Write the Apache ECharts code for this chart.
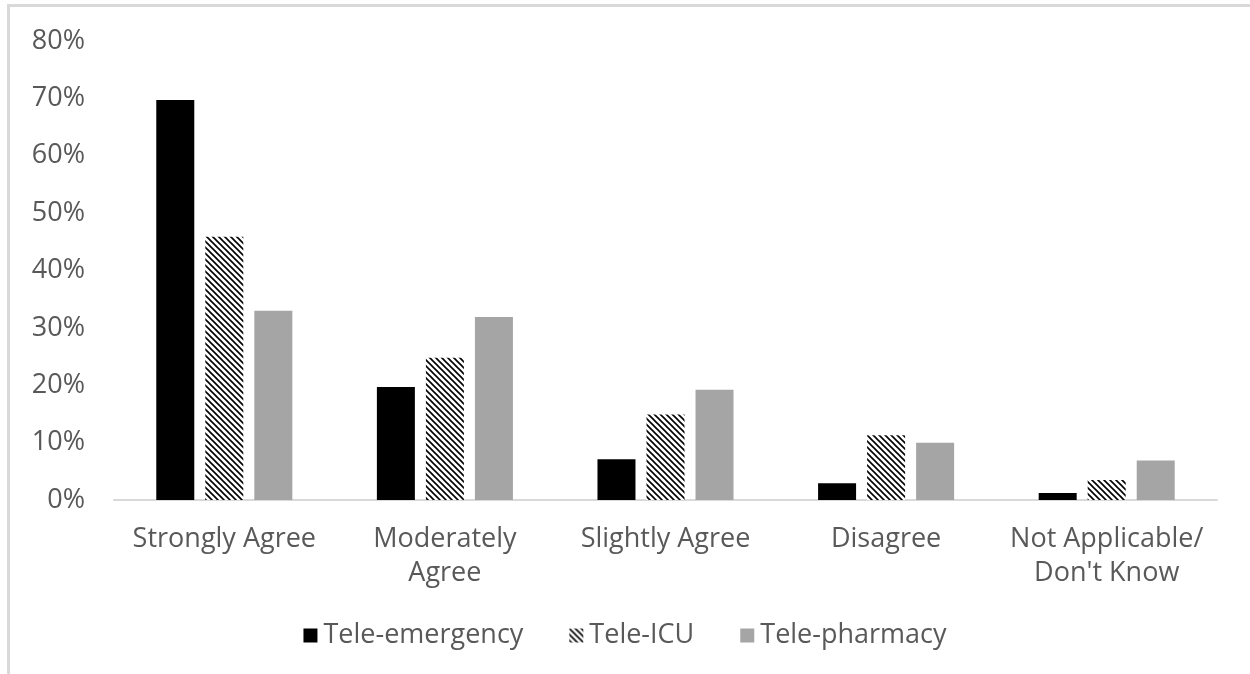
<!DOCTYPE html>
<html>
<head>
<meta charset="utf-8">
<script src="https://cdn.jsdelivr.net/npm/echarts@6/dist/echarts.min.js"></script>
<style>
  html, body { margin: 0; padding: 0; background: #fff; }
  #chart { width: 1250px; height: 674px; }
</style>
</head>
<body>
<div id="chart"></div>
<script>
  var categories = ['Strongly Agree', 'Moderately\nAgree', 'Slightly Agree', 'Disagree', 'Not Applicable/\nDon\'t Know'];
  var seriesNames = ['Tele-emergency', 'Tele-ICU', 'Tele-pharmacy'];
  var teleEmergency = [69.7, 19.7, 7.1, 2.9, 1.2];
  var teleICU = [45.9, 24.8, 14.9, 11.3, 3.5];
  var telePharmacy = [33.0, 31.9, 19.2, 10.0, 6.9];
  var yTicks = [0, 10, 20, 30, 40, 50, 60, 70, 80];

  // diagonal hatch for the Tele-ICU bars
  function makeHatch() {
    var c = document.createElement('canvas');
    c.width = 6; c.height = 6;
    var ctx = c.getContext('2d');
    ctx.fillStyle = '#fff';
    ctx.fillRect(0, 0, 6, 6);
    ctx.strokeStyle = '#000';
    ctx.lineWidth = 1.6;
    ctx.beginPath();
    ctx.moveTo(-1, -1); ctx.lineTo(7, 7);
    ctx.moveTo(-1, 5); ctx.lineTo(1, 7);
    ctx.moveTo(5, -1); ctx.lineTo(7, 1);
    ctx.stroke();
    return c;
  }
  var hatch = { image: makeHatch(), repeat: 'repeat' };

  var chart = echarts.init(document.getElementById('chart'));
  var font = '"Open Sans", sans-serif';
  chart.setOption({
    animation: false,
    graphic: [{
      type: 'polyline',
      shape: { points: [[8.5, 674], [8.5, 5.5], [1250, 5.5]] },
      style: { stroke: '#d9d9d9', lineWidth: 3, fill: null }
    }],
    grid: { left: 114, right: 33, top: 41, bottom: 174 },
    legend: {
      top: 617,
      left: 'center',
      itemWidth: 14,
      itemHeight: 14,
      itemGap: 46,
      icon: 'rect',
      textStyle: { color: '#595959', fontSize: 27, fontFamily: font, padding: [0, 0, 0, 1] },
      data: seriesNames
    },
    xAxis: {
      type: 'category',
      data: categories,
      axisLine: { lineStyle: { color: '#d9d9d9', width: 2 } },
      axisTick: { show: false },
      axisLabel: { interval: 0, color: '#595959', fontSize: 27, fontFamily: font, margin: 22, lineHeight: 34 }
    },
    yAxis: {
      type: 'value',
      min: yTicks[0],
      max: yTicks[yTicks.length - 1],
      interval: 10,
      splitLine: { show: false },
      axisLine: { show: false },
      axisTick: { show: false },
      axisLabel: { color: '#595959', fontSize: 27, fontFamily: font, margin: 29, formatter: '{value}%' }
    },
    series: [{
      name: seriesNames[0],
      type: 'bar',
      data: teleEmergency,
      barWidth: 38,
      barGap: '29%',
      itemStyle: { color: '#000' }
    }, {
      name: seriesNames[1],
      type: 'bar',
      data: teleICU,
      barWidth: 38,
      itemStyle: { color: hatch }
    }, {
      name: seriesNames[2],
      type: 'bar',
      data: telePharmacy,
      barWidth: 38,
      itemStyle: { color: '#a5a5a5' }
    }]
  });
</script>
</body>
</html>
